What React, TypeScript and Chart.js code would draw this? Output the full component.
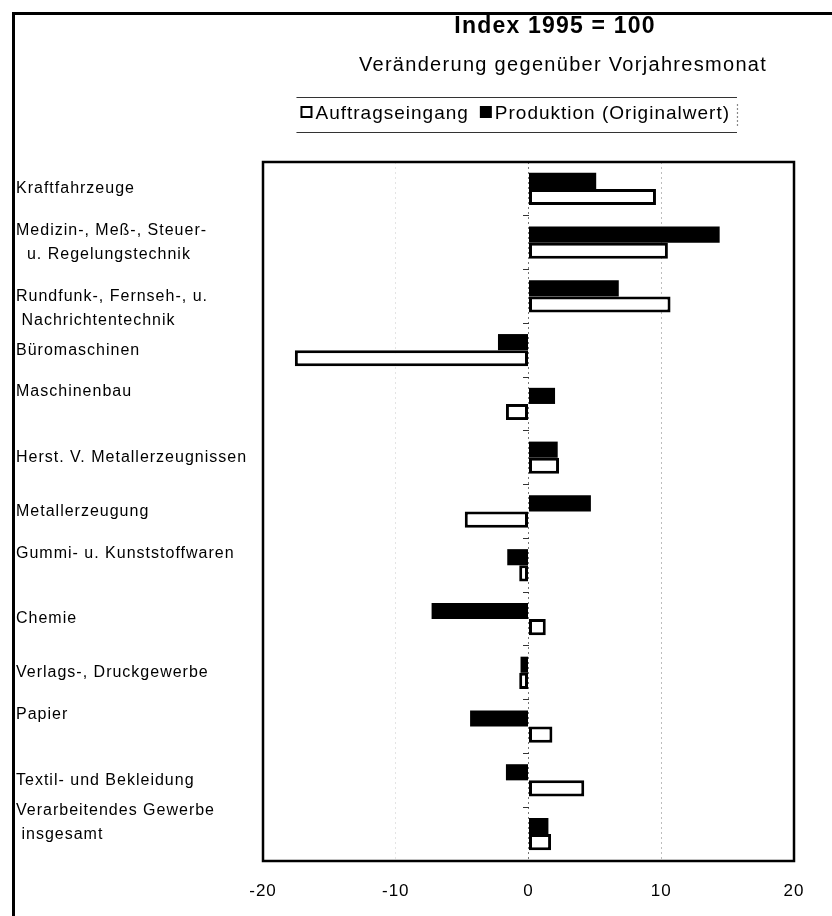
import React, { useEffect, useRef } from "react";
import { Chart, registerables } from "chart.js";

Chart.register(...registerables);

const TITLE = "Index 1995 = 100";
const SUBTITLE = "Veränderung gegenüber Vorjahresmonat";

const categories: (string | string[])[] = [
  "Kraftfahrzeuge",
  ["Medizin-, Meß-, Steuer-", "  u. Regelungstechnik"],
  ["", "Rundfunk-, Fernseh-, u.", " Nachrichtentechnik"],
  "Büromaschinen",
  ["Maschinenbau", ""],
  "Herst. V. Metallerzeugnissen",
  "Metallerzeugung",
  ["Gummi- u. Kunststoffwaren", ""],
  "Chemie",
  "Verlags-, Druckgewerbe",
  ["Papier", ""],
  "Textil- und Bekleidung",
  ["Verarbeitendes Gewerbe", " insgesamt", ""],
];

const seriesProduktion = "Produktion (Originalwert)";
const seriesAuftrag = "Auftragseingang";

const produktion = [5.1, 14.4, 6.8, -2.3, 2.0, 2.2, 4.7, -1.6, -7.3, -0.6, -4.4, -1.7, 1.5];
const auftragseingang = [9.6, 10.5, 10.7, -17.6, -1.7, 2.3, -4.8, -0.7, 1.3, -0.7, 1.8, 4.2, 1.7];

const xTicks = [-20, -10, 0, 10, 20];

const FONT = "'Liberation Sans', Arial, Helvetica, sans-serif";

const setSpacing = (chart: any) => {
  try {
    (chart.ctx as any).letterSpacing = "1px";
  } catch (e) {}
};

const spacingPlugin = {
  id: "spacing",
  beforeUpdate: setSpacing,
  beforeLayout: setSpacing,
  beforeDraw: setSpacing,
};

const decorPlugin = {
  id: "decor",
  afterDraw(chart: any) {
    const { ctx, chartArea: a } = chart;
    const w = a.right - a.left;
    ctx.save();
    (ctx as any).letterSpacing = "0px";

    // outer frame (left + top)
    ctx.fillStyle = "#000";
    ctx.fillRect(12, 12, 3, chart.height - 12);
    ctx.fillRect(12, 12, chart.width - 12, 3);

    // plot border
    ctx.lineWidth = 2.5;
    ctx.strokeStyle = "#000";
    ctx.strokeRect(a.left, a.top, w, a.bottom - a.top);

    // titles
    ctx.fillStyle = "#000";
    ctx.textAlign = "center";
    ctx.textBaseline = "alphabetic";
    ctx.font = `bold 23px ${FONT}`;
    (ctx as any).letterSpacing = "1.2px";
    ctx.fillText(TITLE, a.left + w * 0.55, 33);
    ctx.font = `20px ${FONT}`;
    (ctx as any).letterSpacing = "1.3px";
    ctx.fillText(SUBTITLE, a.left + w * 0.565, 71);

    // legend
    ctx.font = `19px ${FONT}`;
    (ctx as any).letterSpacing = "1px";
    ctx.textAlign = "left";
    const items = chart.data.datasets
      .map((d: any) => ({ label: d.label, fill: d.backgroundColor, stroke: d.borderColor }))
      .reverse();
    const box = 12;
    const gapBox = 3;
    const gapItem = 11;
    const widths = items.map((it: any) => ctx.measureText(it.label).width);
    let total = 0;
    widths.forEach((tw: number, i: number) => {
      total += box + gapBox + tw + (i > 0 ? gapItem : 0);
    });
    const cx = a.left + w * 0.475;
    let x = cx - total / 2;
    const x0 = x;
    const boxY = 106;
    const baseY = 119;
    items.forEach((it: any, i: number) => {
      if (it.fill === "#fff" || it.fill === "#ffffff") {
        ctx.fillStyle = "#fff";
        ctx.fillRect(x, boxY, box, box);
        ctx.lineWidth = 2;
        ctx.strokeStyle = "#000";
        ctx.strokeRect(x + 1, boxY + 1, box - 2, box - 2);
      } else {
        ctx.fillStyle = "#000";
        ctx.fillRect(x, boxY, box, box);
      }
      ctx.fillStyle = "#000";
      ctx.fillText(it.label, x + box + gapBox, baseY);
      x += box + gapBox + widths[i] + gapItem;
    });
    const x1 = x - gapItem;
    ctx.strokeStyle = "#333";
    ctx.lineWidth = 1.2;
    ctx.beginPath();
    ctx.moveTo(x0 - 4, 97.5);
    ctx.lineTo(x1 + 7, 97.5);
    ctx.moveTo(x0 - 4, 132.5);
    ctx.lineTo(x1 + 7, 132.5);
    ctx.stroke();
    ctx.setLineDash([2, 2]);
    ctx.strokeStyle = "#888";
    ctx.beginPath();
    ctx.moveTo(x1 + 7.5, 104);
    ctx.lineTo(x1 + 7.5, 126);
    ctx.stroke();

    ctx.restore();
  },
};

export default function App() {
  const ref = useRef<HTMLCanvasElement | null>(null);

  useEffect(() => {
    if (!ref.current) return;
    const chart = new Chart(ref.current, {
      type: "bar",
      data: {
        labels: categories,
        datasets: [
          {
            label: seriesProduktion,
            data: produktion,
            backgroundColor: "#000",
            borderColor: "#000",
            borderWidth: 0,
            categoryPercentage: 0.6,
            barPercentage: 1,
          },
          {
            label: seriesAuftrag,
            data: auftragseingang,
            backgroundColor: "#fff",
            borderColor: "#000",
            borderWidth: 3,
            borderSkipped: false,
            categoryPercentage: 0.6,
            barPercentage: 1,
          },
        ],
      },
      options: {
        indexAxis: "y",
        responsive: false,
        maintainAspectRatio: false,
        animation: false,
        devicePixelRatio: 1,
        layout: { padding: { left: 16, right: 38, top: 162, bottom: 17 } },
        plugins: {
          legend: { display: false },
          title: { display: false },
          tooltip: { enabled: false },
        },
        scales: {
          x: {
            type: "linear",
            min: xTicks[0],
            max: xTicks[xTicks.length - 1],
            afterBuildTicks: (s: any) => {
              s.ticks = xTicks.map((v) => ({ value: v }));
            },
            afterFit: (s: any) => {
              s.height = 38;
            },
            ticks: {
              color: "#000",
              font: { family: FONT, size: 17 },
              padding: 20,
              maxRotation: 0,
            },
            grid: {
              drawTicks: false,
              lineWidth: 1,
              color: (c: any) => {
                const v = c.tick ? c.tick.value : null;
                if (v === 0) return "#777";
                if (v === 10) return "#bdbdbd";
                if (v === -10) return "#e4e4e4";
                return "rgba(0,0,0,0)";
              },
            },
            border: { display: false, dash: [2, 3] },
          },
          y: {
            type: "category",
            position: "left",
            offset: true,
            grid: { display: false, drawTicks: false },
            border: { display: false },
            ticks: {
              autoSkip: false,
              crossAlign: "far",
              color: "#000",
              padding: 0,
              font: { family: FONT, size: 16, lineHeight: 1.5 },
            },
            afterFit: (s: any) => {
              s.width = 247;
              s.paddingTop = 0;
              s.paddingBottom = 0;
            },
          },
          yz: {
            type: "category",
            axis: "y",
            position: { x: 0 },
            offset: true,
            grid: {
              offset: true,
              drawOnChartArea: false,
              drawTicks: true,
              tickLength: 6,
              color: "#333",
              lineWidth: 1,
            },
            ticks: { display: false },
            border: { display: false },
          },
        },
      } as any,
      plugins: [spacingPlugin, decorPlugin],
    } as any);
    return () => chart.destroy();
  }, []);

  return (
    <div style={{ position: "absolute", left: 0, top: 0, width: 832, height: 916, background: "#fff" }}>
      <canvas ref={ref} width={832} height={916} style={{ display: "block", width: 832, height: 916 }} />
    </div>
  );
}
